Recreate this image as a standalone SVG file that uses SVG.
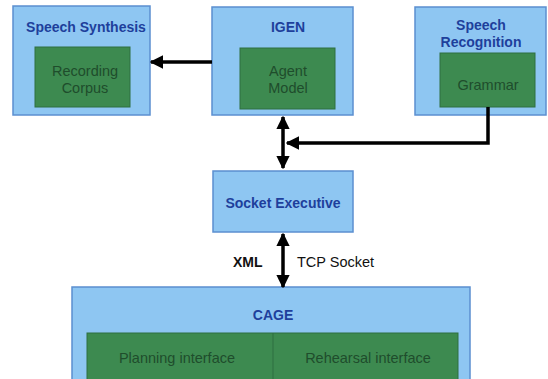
<svg xmlns="http://www.w3.org/2000/svg" width="548" height="379" viewBox="0 0 548 379">
  <style>
    .outer { fill: #8ec6f2; stroke: #5b8fd0; stroke-width: 1.5; }
    .inner { fill: #3d8a50; stroke: #2f6e40; stroke-width: 1; }
    .title { font-family: "Liberation Sans", Arial, sans-serif; font-weight: bold; font-size: 14px; fill: #1e3f9c; text-anchor: middle; }
    .sub { font-family: "Liberation Sans", Arial, sans-serif; font-size: 14.5px; fill: #1f4d2c; text-anchor: middle; }
    .lbl { font-family: "Liberation Sans", Arial, sans-serif; font-size: 14.5px; fill: #111; }
    .lblb { font-family: "Liberation Sans", Arial, sans-serif; font-size: 14px; font-weight: bold; fill: #111; }
    .wire { stroke: #000; stroke-width: 3.5; fill: none; }
  </style>
  <defs>
    <marker id="head" viewBox="0 0 10 10" refX="9" refY="5" markerWidth="3.8" markerHeight="3.8" orient="auto-start-reverse" markerUnits="strokeWidth">
      <path d="M0,0 L10,5 L0,10 z" fill="#000"/>
    </marker>
  </defs>

  <rect width="548" height="379" fill="#ffffff"/>

  <g id="speech-synthesis">
    <rect class="outer" x="13" y="6" width="137" height="109"/>
    <text class="title" x="86" y="32">Speech Synthesis</text>
    <rect class="inner" x="35" y="47" width="95" height="60"/>
    <text class="sub" x="85" y="76">Recording</text>
    <text class="sub" x="85" y="93">Corpus</text>
  </g>

  <g id="igen">
    <rect class="outer" x="212" y="7" width="141" height="108"/>
    <text class="title" x="288" y="32">IGEN</text>
    <rect class="inner" x="240" y="48" width="95" height="61"/>
    <text class="sub" x="288" y="76">Agent</text>
    <text class="sub" x="288" y="93">Model</text>
  </g>

  <g id="speech-recognition">
    <rect class="outer" x="415" y="7" width="131" height="108"/>
    <text class="title" x="481" y="30">Speech</text>
    <text class="title" x="481" y="47">Recognition</text>
    <rect class="inner" x="440" y="53" width="95" height="54"/>
    <text class="sub" x="488" y="90">Grammar</text>
  </g>

  <g id="socket-executive">
    <rect class="outer" x="213" y="171" width="140" height="61"/>
    <text class="title" x="283" y="208">Socket Executive</text>
  </g>

  <g id="cage">
    <rect class="outer" x="72" y="287" width="398" height="100"/>
    <text class="title" x="273" y="320">CAGE</text>
    <rect class="inner" x="87" y="333" width="371" height="60"/>
    <line x1="273" y1="333" x2="273" y2="379" stroke="#2f6e40" stroke-width="1"/>
    <text class="sub" x="177" y="363">Planning interface</text>
    <text class="sub" x="368" y="363">Rehearsal interface</text>
  </g>

  <g id="connectors">
    <!-- IGEN to Speech Synthesis -->
    <line class="wire" x1="212" y1="62" x2="151" y2="62" marker-end="url(#head)"/>
    <!-- IGEN <-> Socket Executive -->
    <line class="wire" x1="283" y1="168" x2="283" y2="117" marker-start="url(#head)" marker-end="url(#head)"/>
    <!-- Grammar feeds into the IGEN / Socket Executive link -->
    <polyline class="wire" points="488,107 488,143 287,143" marker-end="url(#head)"/>
    <!-- Socket Executive <-> CAGE -->
    <line class="wire" x1="283" y1="234" x2="283" y2="287" marker-start="url(#head)" marker-end="url(#head)"/>
    <text class="lblb" x="233" y="267">XML</text>
    <text class="lbl" x="297" y="267">TCP Socket</text>
  </g>
</svg>
